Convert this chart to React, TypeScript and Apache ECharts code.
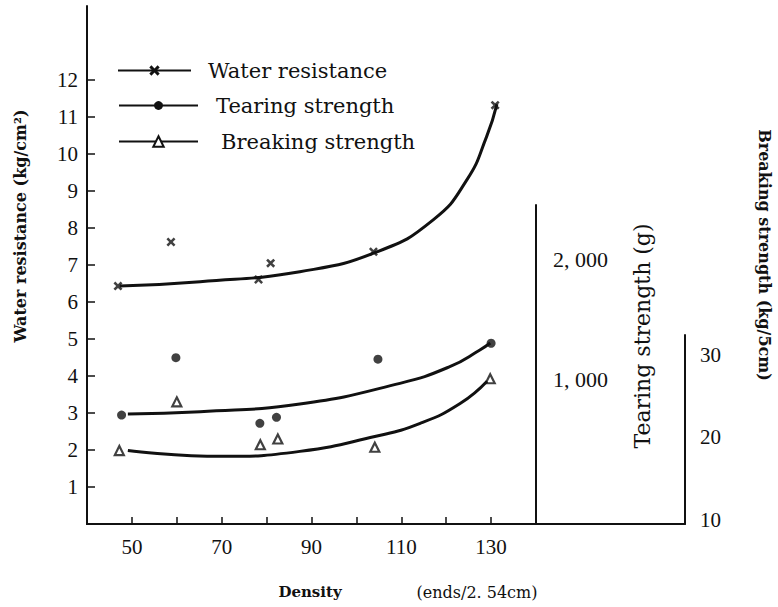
import React, { useEffect, useRef } from "react";
import * as echarts from "echarts";

// ---- data ----
const densityTicks = [50, 60, 70, 80, 90, 100, 110, 120, 130];
const densityLabels = [50, 70, 90, 110, 130];
const waterTicks = [1, 2, 3, 4, 5, 6, 7, 8, 9, 10, 11, 12];
const tearingLabels = [1000, 2000];
const breakingLabels = [10, 20, 30];

const seriesNames = ["Water resistance", "Tearing strength", "Breaking strength"];

// Water resistance (kg/cm2) vs density (ends/2.54cm)
const waterPoints = [
  [46.9, 6.43], [58.7, 7.62], [78.2, 6.61], [80.9, 7.05], [103.8, 7.36], [130.9, 11.32],
];
const waterCurve = [
  [47.3, 6.43], [65.2, 6.55], [87.4, 6.82], [104.7, 7.36], [117.1, 8.22],
  [124.6, 9.3], [129.0, 10.47], [131.3, 11.35],
];

// Tearing strength (g)
const tearingPoints = [
  [47.7, 708], [59.8, 1186], [78.5, 639], [82.2, 689], [104.8, 1173], [130.0, 1306],
];
const tearingCurve = [
  [49.1, 717], [65.2, 736], [87.4, 800], [109.7, 972], [120.8, 1111], [127.5, 1250], [129.8, 1308],
];

// Breaking strength (kg/5cm)
const breakingPoints = [
  [47.2, 18.4], [60.0, 24.3], [78.6, 19.1], [82.5, 19.8], [104.1, 18.8], [129.8, 27.1],
];
const breakingCurve = [
  [49.1, 18.4], [70.1, 17.7], [87.4, 18.3], [104.1, 20.1], [114.2, 21.7], [123.1, 24.1], [129.1, 26.8],
];

const X_SYMBOL =
  "path://M0,2L2,0L5,3L8,0L10,2L7,5L10,8L8,10L5,7L2,10L0,8L3,5Z";

const INK = "#111";
const SERIF = "Liberation Serif";
const DJ = "DejaVu Serif";

export default function App() {
  const ref = useRef<HTMLDivElement>(null);

  useEffect(() => {
    const chart = echarts.init(ref.current!, null, { renderer: "svg" });

    // layout (pixels)
    const L = 87, R0 = 536, R2 = 685, BOTTOM = 524;
    const xMin = 40, xMax = 140;
    const pxPerUnit = (R0 - L) / (xMax - xMin);
    const xMaxWide = xMin + (R2 - L) / pxPerUnit;

    const tickLabel = { fontFamily: SERIF, fontSize: 21, color: INK };
    const axisLine = { show: true, onZero: false, lineStyle: { color: INK, width: 2 } };

    const legendBase = (name: string, left: number, top: number, itemWidth: number, pad: number, itemHeight: number) => ({
      data: [name],
      left,
      top,
      padding: 0,
      itemWidth,
      itemHeight,
      selectedMode: false,
      textStyle: { fontFamily: DJ, fontSize: 21, color: INK, padding: [0, 0, 0, pad] },
    });

    const titleText = (text: string, x: number, y: number, rotation: number, font: string) => ({
      type: "text", x, y, rotation,
      style: { text, fill: INK, font, textAlign: "center", textVerticalAlign: "middle", verticalAlign: "middle" },
    });

    const triangleStyle = { color: "#fff", borderColor: INK, borderWidth: 2.2 };

    const option: any = {
      animation: false,
      backgroundColor: "#fff",
      textStyle: { fontFamily: SERIF, color: INK },
      grid: [
        { left: L, top: 6, width: R0 - L, height: BOTTOM - 6, outerBoundsMode: "none" },
        { left: L, top: 205, width: R0 - L, height: BOTTOM - 205, outerBoundsMode: "none" },
        { left: L, top: 335, width: R2 - L, height: BOTTOM - 335, outerBoundsMode: "none" },
      ],
      legend: [
        legendBase(seriesNames[0], 117, 60, 73, 12, 13),
        legendBase(seriesNames[1], 118, 95, 79, 13, 11),
        legendBase(seriesNames[2], 118, 131, 79, 18, 13),
      ],
      xAxis: [
        {
          gridIndex: 0, type: "value", min: xMin, max: xMax,
          axisLine,
          axisTick: { show: true, inside: true, length: 7, customValues: densityTicks, lineStyle: { color: INK, width: 1.5 } },
          axisLabel: {
            ...tickLabel, margin: 12, customValues: densityLabels,
            formatter: (v: number) => (densityLabels.includes(v) ? String(v) : ""),
          },
          splitLine: { show: false },
        },
        { gridIndex: 1, type: "value", min: xMin, max: xMax, show: false },
        {
          gridIndex: 2, type: "value", min: xMin, max: xMaxWide,
          axisLine, axisTick: { show: false }, axisLabel: { show: false }, splitLine: { show: false },
        },
      ],
      yAxis: [
        {
          gridIndex: 0, type: "value", min: 0, max: 14, position: "left",
          axisLine,
          axisTick: { show: true, inside: true, length: 8, customValues: waterTicks, lineStyle: { color: INK, width: 1.5 } },
          axisLabel: {
            ...tickLabel, margin: 9, customValues: waterTicks,
            formatter: (v: number) => (waterTicks.includes(v) ? String(v) : ""),
          },
          splitLine: { show: false },
        },
        {
          gridIndex: 1, type: "value", min: -200, max: 2458, position: "right",
          axisLine,
          axisTick: { show: false },
          axisLabel: {
            ...tickLabel, fontSize: 22, margin: 17, customValues: tearingLabels,
            formatter: (v: number) =>
              tearingLabels.includes(v) ? `${Math.floor(v / 1000)}, ${String(v % 1000).padStart(3, "0")}` : "",
          },
          splitLine: { show: false },
        },
        {
          gridIndex: 2, type: "value", min: 9.5, max: 32.4, position: "right",
          axisLine,
          axisTick: { show: false },
          axisLabel: {
            ...tickLabel, margin: 15, customValues: breakingLabels,
            formatter: (v: number) => (breakingLabels.includes(v) ? String(v) : ""),
          },
          splitLine: { show: false },
        },
      ],
      series: [
        {
          name: seriesNames[0], type: "line", xAxisIndex: 0, yAxisIndex: 0,
          data: waterCurve, smooth: 0.5, showSymbol: false,
          symbol: X_SYMBOL, symbolSize: 10,
          lineStyle: { color: INK, width: 3 }, itemStyle: { color: INK },
        },
        {
          name: seriesNames[0], type: "scatter", xAxisIndex: 0, yAxisIndex: 0,
          data: waterPoints, symbol: X_SYMBOL, symbolSize: 9, itemStyle: { color: INK },
        },
        {
          name: seriesNames[1], type: "line", xAxisIndex: 1, yAxisIndex: 1,
          data: tearingCurve, smooth: 0.5, showSymbol: false,
          symbol: "circle", symbolSize: 9,
          lineStyle: { color: INK, width: 3 }, itemStyle: { color: INK },
        },
        {
          name: seriesNames[1], type: "scatter", xAxisIndex: 1, yAxisIndex: 1,
          data: tearingPoints, symbol: "circle", symbolSize: 9, itemStyle: { color: INK },
        },
        {
          name: seriesNames[2], type: "line", xAxisIndex: 2, yAxisIndex: 2,
          data: breakingCurve, smooth: 0.5, showSymbol: false,
          symbol: "triangle", symbolSize: 10,
          lineStyle: { color: INK, width: 3 },
          itemStyle: triangleStyle,
        },
        {
          name: seriesNames[2], type: "scatter", xAxisIndex: 2, yAxisIndex: 2,
          data: breakingPoints, symbol: "triangle", symbolSize: 9,
          itemStyle: triangleStyle,
        },
      ],
      graphic: [
        titleText("Water resistance (kg/cm²)", 20, 226, Math.PI / 2, `bold 16px ${DJ}`),
        titleText("Tearing strength (g)", 642, 336, Math.PI / 2, `22px ${DJ}`),
        titleText("Breaking strength (kg/5cm)", 764, 255, -Math.PI / 2, `bold 16px ${DJ}`),
        titleText("Density", 310, 592, 0, `bold 15px ${DJ}`),
        titleText("(ends/2. 54cm)", 477, 592, 0, `16px ${DJ}`),
      ],
    };

    chart.setOption(option);
    return () => chart.dispose();
  }, []);

  return (
    <div
      ref={ref}
      style={{ position: "fixed", left: 0, top: 0, width: 778, height: 607, background: "#fff" }}
    />
  );
}
